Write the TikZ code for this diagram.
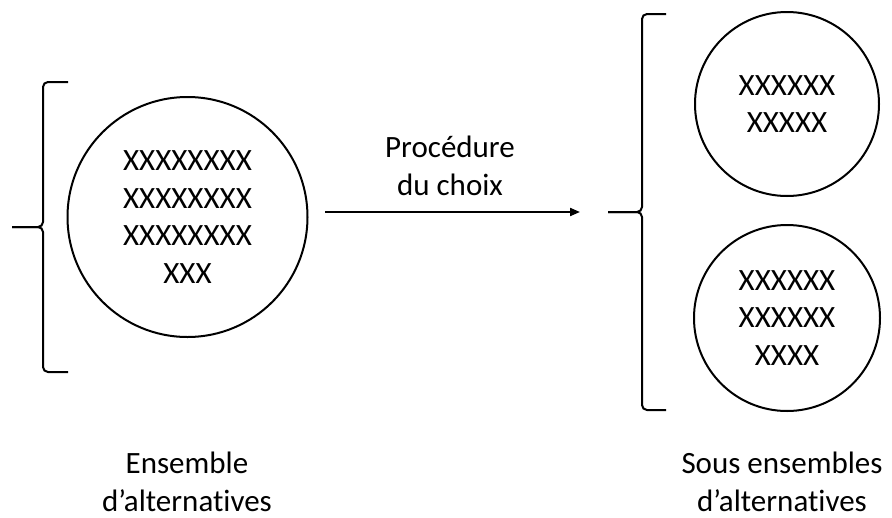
\documentclass[tikz,border=0pt]{standalone}
\usepackage{fontspec}
\setmainfont{Carlito}[Ligatures=NoCommon]
\usetikzlibrary{arrows.meta}

\begin{document}
\begin{tikzpicture}[x=1pt, y=-1pt, line width=2pt,
		main/.style = {draw, circle, inner sep=0pt, align=center, font=\fontsize{31}{37.7}\selectfont},
		lbl/.style = {align=center, inner sep=0pt, font=\fontsize{31}{37.7}\selectfont}]
		\useasboundingbox (0,0) rectangle (892,517);
		\node[main, minimum size=240pt] (ens) at (187.5,217) {XXXXXXXX\\XXXXXXXX\\XXXXXXXX\\XXX};
		\node[main, minimum size=184pt] (sub1) at (787,104) {XXXXXX\\XXXXX};
		\node[main, minimum size=186pt] (sub2) at (787,318) {XXXXXX\\XXXXXX\\XXXX};
		\node[lbl, anchor=base] (proc) at (450,195) {Procédure\\du choix};
		\node[lbl, anchor=base] (ensl) at (187,511) {Ensemble\\d’alternatives};
		\node[lbl, anchor=base] (subl) at (782,511) {Sous ensembles\\d’alternatives};
		\coordinate (start) at (325,212);
		\coordinate (end) at (580,212);
		\draw[-{Triangle[length=10pt,width=8pt]}] (start) -- (end);
		% braces
		\draw[rounded corners=5pt] (68,82) -- (43,82) -- (43,227) -- (12,227);
		\draw[rounded corners=5pt] (68,372) -- (43,372) -- (43,227) -- (12,227);
		\draw[rounded corners=5pt] (666,14) -- (642,14) -- (642,212) -- (608,212);
		\draw[rounded corners=5pt] (666,410) -- (642,410) -- (642,212) -- (608,212);
	\end{tikzpicture}
\end{document}
